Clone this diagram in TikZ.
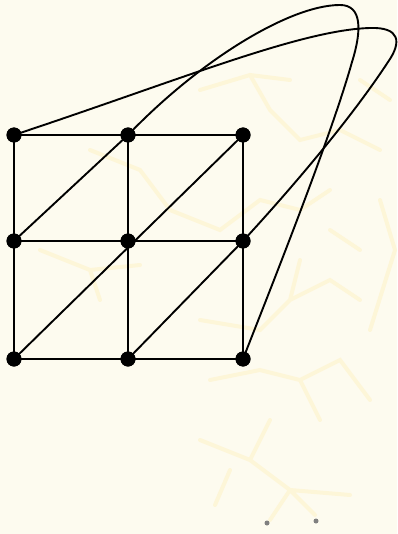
\documentclass[tikz,border=0pt]{standalone}
\begin{document}
\begin{tikzpicture}[x=1pt,y=-1pt,
  vtx/.style={circle,fill=black,inner sep=0pt,minimum size=15pt},
  edge/.style={line width=1.9pt,black},
  bgtree/.style={line width=4pt,color=yellow!60!orange!30,opacity=0.35,line cap=round}]
\fill[fill={rgb,255:red,253;green,251;blue,239}] (0,0) rectangle (397,534);
\useasboundingbox (0,0) rectangle (397,534);
% faint background pattern
\begin{scope}
\draw[bgtree] (200,90) -- (250,75) -- (290,80) (250,75) -- (270,110) -- (300,140) -- (340,130) -- (380,150);
\draw[bgtree] (90,150) -- (140,170) -- (170,210) -- (220,230) -- (260,200) -- (300,210) -- (330,190);
\draw[bgtree] (40,250) -- (90,270) -- (140,265) (90,270) -- (100,300);
\draw[bgtree] (200,320) -- (260,330) -- (290,300) -- (330,280) -- (360,300) (290,300) -- (300,260);
\draw[bgtree] (210,380) -- (260,370) -- (300,380) -- (340,360) -- (370,400) (300,380) -- (320,420);
\draw[bgtree] (200,440) -- (250,460) -- (290,490) -- (350,495) (250,460) -- (270,420) (290,490) -- (270,520) (290,490) -- (315,515) (230,470) -- (215,505);
\draw[bgtree] (360,80) -- (390,100) (380,200) -- (395,250) -- (370,330) (330,230) -- (360,250);
\end{scope}
\fill[gray] (267,523) circle (2.5);
\fill[gray] (316,521) circle (2.5);
% vertices
\node[vtx] (a1) at (14,135) {};
\node[vtx] (a2) at (128,135) {};
\node[vtx] (a3) at (243,135) {};
\node[vtx] (b1) at (14,241) {};
\node[vtx] (b2) at (128,241) {};
\node[vtx] (b3) at (243,241) {};
\node[vtx] (c1) at (14,359) {};
\node[vtx] (c2) at (128,359) {};
\node[vtx] (c3) at (243,359) {};
% edges
\draw[edge] (a1.center) -- (a2.center) -- (a3.center);
\draw[edge] (b1.center) -- (b2.center) -- (b3.center);
\draw[edge] (c1.center) -- (c2.center) -- (c3.center);
\draw[edge] (a1.center) -- (b1.center) -- (c1.center);
\draw[edge] (a2.center) -- (b2.center) -- (c2.center);
\draw[edge] (a3.center) -- (b3.center) -- (c3.center);
\draw[edge] (b1.center) -- (a2.center);
\draw[edge] (c1.center) -- (a3.center);
\draw[edge] (c2.center) -- (b3.center);
% loops
\draw[edge] (a1.center) .. controls (180,80) and (300,30) .. (370,28)
  .. controls (400,27) and (402,42) .. (388,62)
  .. controls (350,120) and (290,190) .. (b3.center);
\draw[edge] (a2.center) .. controls (200,60) and (290,5) .. (340,5)
  .. controls (362,5) and (362,30) .. (352,62)
  .. controls (330,140) and (270,290) .. (c3.center);
% redraw vertices on top
\foreach \n in {a1,a2,a3,b1,b2,b3,c1,c2,c3} \fill (\n) circle (7.5);
\end{tikzpicture}
\end{document}
